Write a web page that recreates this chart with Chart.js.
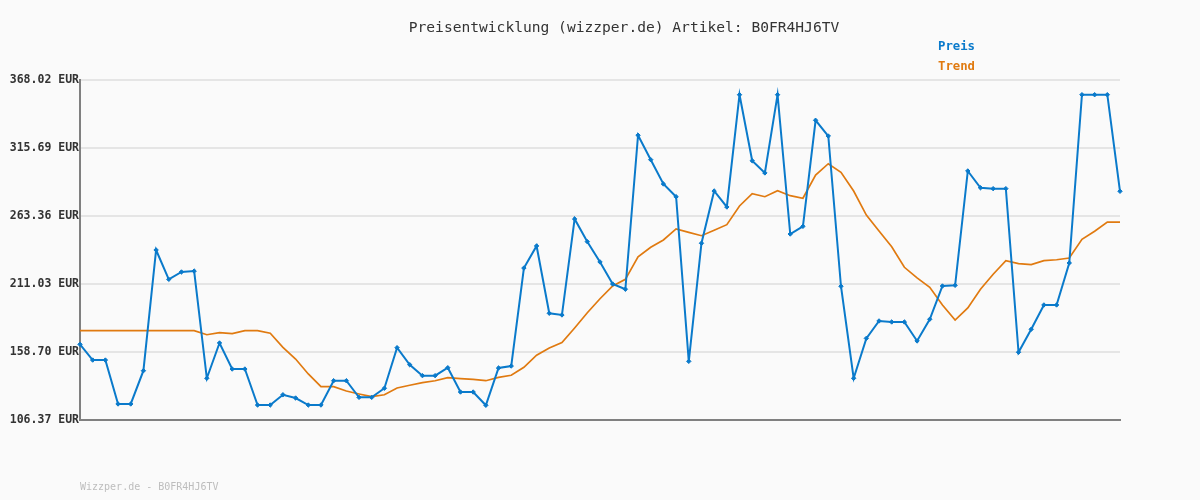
<!DOCTYPE html>
<html>
<head>
<meta charset="utf-8">
<script src="https://cdn.jsdelivr.net/npm/chart.js@4/dist/chart.umd.min.js"></script>
<style>
  html, body { margin: 0; padding: 0; background: #fafafa; }
  #wrap { width: 1200px; height: 500px; }
</style>
</head>
<body>
<div id="wrap"><canvas id="priceChart" width="1200" height="500"></canvas></div>
<script>
// Preise pro Messpunkt (83 Punkte)
const preis = [
  164.6, 152.5, 152.5, 118.7, 118.7, 144.3, 237.2, 214.6, 220.3, 221.0,
  138.5, 165.6, 145.6, 145.6, 117.9, 117.9, 125.8, 123.3, 117.9, 117.9,
  136.6, 136.6, 123.8, 123.8, 130.8, 162.0, 148.9, 140.5, 140.5, 146.6,
  127.9, 127.9, 117.7, 146.4, 147.9, 223.3, 240.3, 188.5, 187.2, 261.1,
  243.6, 228.0, 211.0, 207.0, 325.5, 306.7, 288.0, 278.2, 151.5, 242.4,
  282.6, 270.3, 356.7, 305.9, 296.5, 356.7, 249.5, 255.4, 337.0, 324.9,
  209.3, 138.5, 169.2, 182.6, 181.8, 181.8, 167.2, 183.9, 209.5, 210.0,
  298.0, 285.1, 284.4, 284.4, 158.5, 176.2, 194.9, 194.9, 227.2, 356.7,
  356.7, 356.7, 282.4
];
const trend = [
  175.1, 175.1, 175.1, 175.1, 175.1, 175.1, 175.1, 175.1, 175.1, 175.1,
  172.0, 173.6, 172.8, 175.1, 175.1, 173.1, 162.3, 153.3, 141.8, 132.0,
  132.0, 128.7, 126.4, 124.3, 125.8, 131.0, 133.1, 135.1, 136.6, 138.9,
  138.2, 137.7, 136.6, 139.2, 140.8, 146.9, 156.2, 161.8, 165.9, 177.2,
  188.9, 199.7, 209.5, 214.6, 232.0, 239.3, 244.9, 253.4, 250.8, 248.2,
  252.4, 256.7, 271.1, 280.5, 278.2, 282.8, 279.0, 277.0, 294.9, 303.6,
  297.0, 282.6, 264.1, 251.8, 239.7, 223.9, 215.7, 208.5, 194.9, 183.3,
  192.6, 207.0, 218.5, 229.0, 226.7, 225.9, 229.0, 229.7, 231.0, 245.4,
  251.6, 258.7, 258.7
];
const labels = preis.map((_, i) => i + 1);
const yTicks = [106.37, 158.70, 211.03, 263.36, 315.69, 368.02];

const titel = 'Preisentwicklung (wizzper.de) Artikel: B0FR4HJ6TV';
const fusszeile = 'Wizzper.de - B0FR4HJ6TV';
const BLAU = '#0a7acb';
const ORANGE = '#e07a10';
const MONO = '"DejaVu Sans Mono", "Liberation Mono", monospace';

// Titel, Legende und Fusszeile selbst zeichnen
const textPlugin = {
  id: 'texte',
  beforeDraw(chart) {
    const c = chart.ctx;
    c.save();
    c.fillStyle = '#fafafa';
    c.fillRect(0, 0, chart.width, chart.height);
    c.restore();
  },
  afterDraw(chart) {
    const c = chart.ctx;
    c.save();
    c.textBaseline = 'middle';
    c.font = '14.6px ' + MONO;
    c.fillStyle = '#333';
    c.textAlign = 'center';
    c.fillText(titel, 624, 28);

    c.font = 'bold 12.3px ' + MONO;
    c.textAlign = 'right';
    c.fillStyle = BLAU;
    c.fillText(chart.data.datasets[0].label, 975, 47);
    c.fillStyle = ORANGE;
    c.fillText(chart.data.datasets[1].label, 975, 67);

    c.font = '10px ' + MONO;
    c.textAlign = 'left';
    c.fillStyle = '#bdbdbd';
    c.fillText(fusszeile, 80, 487);
    c.restore();
  }
};

new Chart(document.getElementById('priceChart'), {
  type: 'line',
  data: {
    labels: labels,
    datasets: [
      {
        label: 'Preis',
        data: preis,
        borderColor: BLAU,
        backgroundColor: BLAU,
        borderWidth: 2,
        pointStyle: 'rectRot',
        pointRadius: 2.2,
        pointBorderWidth: 1,
        tension: 0
      },
      {
        label: 'Trend',
        data: trend,
        borderColor: ORANGE,
        borderWidth: 1.7,
        pointRadius: 0,
        tension: 0
      }
    ]
  },
  options: {
    responsive: false,
    animation: false,
    layout: { padding: { left: 0, right: 80, top: 80, bottom: 80 } },
    plugins: {
      legend: { display: false },
      title: { display: false },
      tooltip: { enabled: false }
    },
    scales: {
      x: {
        grid: { display: false, drawTicks: false },
        ticks: { display: false },
        border: { display: true, color: '#808080', width: 2 },
        afterFit(s) { s.height = 0; }
      },
      y: {
        min: yTicks[0],
        max: yTicks[yTicks.length - 1],
        afterBuildTicks(s) { s.ticks = yTicks.map(v => ({ value: v })); },
        afterFit(s) { s.width = 80; },
        grid: { color: '#e5e5e5', lineWidth: 2, drawTicks: false },
        border: { display: true, color: '#808080', width: 2 },
        ticks: {
          padding: 1,
          color: '#333',
          font: { family: MONO, size: 11.5, weight: 'bold' },
          callback: v => Number(v).toFixed(2) + ' EUR'
        }
      }
    }
  },
  plugins: [textPlugin]
});
</script>
</body>
</html>
